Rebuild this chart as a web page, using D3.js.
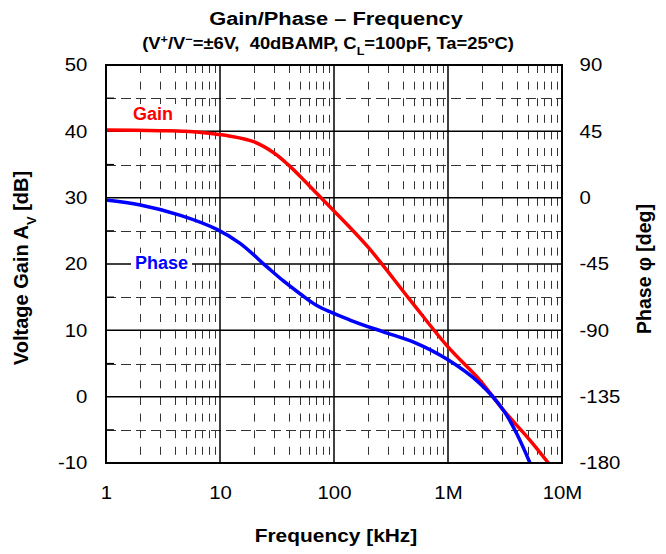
<!DOCTYPE html>
<html>
<head>
<meta charset="utf-8">
<script src="https://cdn.jsdelivr.net/npm/d3@7"></script>
<style>
  body { margin: 0; background: #fff; }
  text { font-family: "Liberation Sans", Arial, sans-serif; }
</style>
</head>
<body>
<svg id="chart"></svg>
<script>
var width = 666;
var height = 554;
var margin = {top: 65, bottom: 91, left: 106, right: 104};

// gain curve (kHz, dB)
var gainFreq = [1, 3, 5, 8, 12, 20, 30, 40, 54, 70, 100, 200, 464, 1000, 1900, 3050, 5200, 7600];
var gainDb   = [40.2, 40.1, 40.0, 39.7, 39.3, 38.4, 36.7, 34.9, 32.7, 30.7, 28.0, 22.5, 14.6, 7.5, 2.5, -2.0, -6.5, -10];

// phase curve (kHz, deg)
var phaseFreq = [1, 2, 4.5, 9.4, 15, 25.7, 36, 50, 70, 138, 270, 500, 1000, 1900, 3050, 4000, 5240];
var phaseDeg  = [-1.6, -5, -12, -21.5, -31, -46.8, -56.5, -65, -73, -83, -91, -98, -110, -126, -144, -160, -180];

var xTicks = [1, 10, 100, 1000, 10000];
var xTickLabels = ["1", "10", "100", "1M", "10M"];
var gainTicks = [-10, 0, 10, 20, 30, 40, 50];
var phaseTicks = [-180, -135, -90, -45, 0, 45, 90];

var svg = d3.select("#chart").attr("width", width).attr("height", height);

var x0 = margin.left, x1 = width - margin.right;
var y0 = height - margin.bottom, y1 = margin.top;

var xScale = d3.scaleLog().domain([1, 10000]).range([x0, x1]);
var yGain = d3.scaleLinear().domain([-10, 50]).range([y0, y1]);
var yPhase = d3.scaleLinear().domain([-180, 90]).range([y0, y1]);

// grid
var grid = svg.append("g");
var minorX = [];
for (var dec = 1; dec < 10000; dec *= 10) {
    for (var m = 2; m <= 9; m++) minorX.push(dec * m);
}
grid.selectAll(".vminor").data(minorX).enter().append("line")
    .attr("x1", d => Math.round(xScale(d)) + 0.5).attr("x2", d => Math.round(xScale(d)) + 0.5)
    .attr("y1", y1).attr("y2", y0)
    .attr("stroke", "#333").attr("stroke-width", 1)
    .attr("stroke-dasharray", "8,8.6");

var midY = [-5, 5, 15, 25, 35, 45];
grid.selectAll(".hminor").data(midY).enter().append("line")
    .attr("x1", x0).attr("x2", x1)
    .attr("y1", d => Math.round(yGain(d)) + 0.5).attr("y2", d => Math.round(yGain(d)) + 0.5)
    .attr("stroke", "#333").attr("stroke-width", 1)
    .attr("stroke-dasharray", "10,5");

grid.selectAll(".vmajor").data(xTicks.slice(1, -1)).enter().append("line")
    .attr("x1", d => xScale(d)).attr("x2", d => xScale(d))
    .attr("y1", y1).attr("y2", y0)
    .attr("stroke", "#000").attr("stroke-width", 1.5);

grid.selectAll(".hmajor").data(gainTicks.slice(1, -1)).enter().append("line")
    .attr("x1", x0).attr("x2", x1)
    .attr("y1", d => yGain(d)).attr("y2", d => yGain(d))
    .attr("stroke", "#000").attr("stroke-width", 1.5);

// small inward ticks on left at the half steps
grid.selectAll(".ltick").data(midY).enter().append("line")
    .attr("x1", x0).attr("x2", x0 + 8)
    .attr("y1", d => yGain(d)).attr("y2", d => yGain(d))
    .attr("stroke", "#000").attr("stroke-width", 1.2);

// curves
var line = d3.line().curve(d3.curveCatmullRom.alpha(0.5));
var gainPts = gainFreq.map((f, i) => [xScale(f), yGain(gainDb[i])]);
var phasePts = phaseFreq.map((f, i) => [xScale(f), yPhase(phaseDeg[i])]);

svg.append("path").attr("d", line(gainPts))
    .attr("fill", "none").attr("stroke", "#ff0000").attr("stroke-width", 3.5);
svg.append("path").attr("d", line(phasePts))
    .attr("fill", "none").attr("stroke", "#0000ff").attr("stroke-width", 3.5);

// frame
svg.append("rect").attr("x", x0).attr("y", y1)
    .attr("width", x1 - x0).attr("height", y0 - y1)
    .attr("fill", "none").attr("stroke", "#000").attr("stroke-width", 2);

// series labels with white backing
function seriesLabel(txt, color, x, y) {
    var g = svg.append("g");
    var t = g.append("text").attr("x", x).attr("y", y).text(txt)
        .attr("fill", color).attr("font-weight", "bold").attr("font-size", 18);
    var b = t.node().getBBox();
    g.insert("rect", "text").attr("x", b.x - 4).attr("y", b.y)
        .attr("width", b.width + 8).attr("height", b.height).attr("fill", "#fff");
}
seriesLabel("Gain", "#ff0000", 133, 120);
seriesLabel("Phase", "#0000ff", 135, 269);

// axes
function styleTicks(g) {
    g.select(".domain").remove();
    g.selectAll("text").attr("font-size", 18.5).attr("fill", "#000")
        .style("font-family", "Liberation Sans, Arial, sans-serif");
}
var xAxis = d3.axisBottom(xScale).tickValues(xTicks)
    .tickFormat((d, i) => xTickLabels[i]).tickSize(0).tickPadding(23);
svg.append("g").attr("transform", "translate(0," + y0 + ")").call(xAxis)
    .call(styleTicks)
    .selectAll("text").attr("transform", "scale(1.1,1)");

var yAxisL = d3.axisLeft(yGain).tickValues(gainTicks).tickFormat(d => String(d))
    .tickSize(0).tickPadding(17);
svg.append("g").attr("transform", "translate(" + x0 + ",0)").call(yAxisL)
    .call(styleTicks)
    .selectAll("text").attr("transform", "scale(1.1,1)");

var yAxisR = d3.axisRight(yPhase).tickValues(phaseTicks).tickFormat(d => String(d))
    .tickSize(0).tickPadding(16);
svg.append("g").attr("transform", "translate(" + x1 + ",0)").call(yAxisR)
    .call(styleTicks)
    .selectAll("text").attr("transform", "scale(1.1,1)");

// titles
svg.append("text").attr("transform", "translate(336,25) scale(1.15,1)").attr("text-anchor", "middle")
    .attr("font-weight", "bold").attr("font-size", 19).text("Gain/Phase \u2013 Frequency");

var sub = svg.append("text").attr("transform", "translate(328,49) scale(1.15,1)").attr("text-anchor", "middle")
    .attr("font-weight", "bold").attr("font-size", 16).style("white-space", "pre");
sub.append("tspan").text("(V");
sub.append("tspan").attr("baseline-shift", "super").attr("font-size", 11).text("+");
sub.append("tspan").text("/V");
sub.append("tspan").attr("baseline-shift", "super").attr("font-size", 11).text("\u2212");
sub.append("tspan").text("=\u00b16V,  40dBAMP, C");
sub.append("tspan").attr("baseline-shift", "sub").attr("font-size", 11).text("L");
sub.append("tspan").text("=100pF, Ta=25\u00baC)");

svg.append("text").attr("transform", "translate(336,542) scale(1.1,1)").attr("text-anchor", "middle")
    .attr("font-weight", "bold").attr("font-size", 19).text("Frequency [kHz]");

var yl = svg.append("text").attr("transform", "translate(28,268) rotate(-90)")
    .attr("text-anchor", "middle").attr("font-weight", "bold").attr("font-size", 20);
yl.append("tspan").text("Voltage Gain A");
yl.append("tspan").attr("baseline-shift", "sub").attr("font-size", 13).text("V");
yl.append("tspan").text(" [dB]");

svg.append("text").attr("transform", "translate(651,269) rotate(-90)")
    .attr("text-anchor", "middle").attr("font-weight", "bold").attr("font-size", 19.5)
    .text("Phase \u03c6 [deg]");
</script>
</body>
</html>
